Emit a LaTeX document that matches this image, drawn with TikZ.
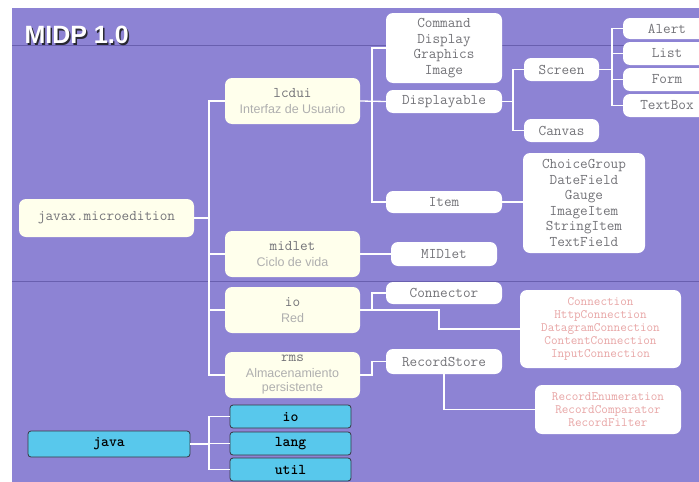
\documentclass[tikz,border=0pt]{standalone}
\usepackage{fontspec}
\setmainfont{Liberation Sans}
\definecolor{bgpurple}{RGB}{141,131,212}
\definecolor{divline}{RGB}{105,95,175}
\definecolor{cream}{RGB}{255,255,236}
\definecolor{boxgray}{RGB}{115,115,120}
\definecolor{subgray}{RGB}{175,175,175}
\definecolor{pinktext}{RGB}{232,165,165}
\definecolor{jcyan}{RGB}{88,200,236}
\definecolor{jborder}{RGB}{55,55,65}
\definecolor{titleshadow}{RGB}{40,40,50}
\tikzset{
  conn/.style={draw=white, line width=1.3pt},
  wbox/.style={fill=white, rounded corners=7pt, inner sep=0pt, align=center, text=boxgray,
    font=\ttfamily\fontsize{14.8}{15.5}\selectfont},
  cbox/.style={wbox, fill=cream, font=\fontsize{14.8}{15.5}\selectfont},
  pbox/.style={wbox, text=pinktext, font=\ttfamily\fontsize{12.8}{13}\selectfont},
  jbox/.style={fill=jcyan, draw=jborder, line width=0.8pt, rounded corners=3pt, inner sep=0pt,
    text=black, font=\ttfamily\bfseries\fontsize{15}{16}\selectfont},
}
\newcommand{\subt}[1]{{\color{subgray}\rmfamily\fontsize{12.5}{15}\selectfont #1}}
\begin{document}
\begin{tikzpicture}[x=1pt,y=-1pt]
\useasboundingbox (0,0) rectangle (699,482);
\fill[white] (0,0) rectangle (699,482);
\fill[bgpurple] (12,8) rectangle (699,482);
\draw[divline, line width=0.8pt] (12,45) -- (699,45);
\draw[divline, line width=0.8pt] (12,281) -- (699,281);
% title
\node[anchor=west, text=titleshadow, font=\bfseries\fontsize{25}{28}\selectfont] at (22.5,36.5) {MIDP 1.0};
\node[anchor=west, text=white, font=\bfseries\fontsize{25}{28}\selectfont] (title) at (21,35) {MIDP 1.0};
% trunk coordinates
\coordinate (t1) at (209,0);
\coordinate (t2) at (372,0);
\coordinate (t3) at (513,0);
\coordinate (t4) at (612,0);
\coordinate (t5) at (439,0);
% level 1
\node[cbox, minimum width=175, minimum height=38] (javax) at (106.5,218) {\ttfamily javax.microedition};
\node[cbox, minimum width=135, minimum height=46] (lcdui) at (292.5,101) {{\ttfamily lcdui}\\\subt{Interfaz de Usuario}};
\node[cbox, minimum width=135, minimum height=46] (midlet) at (292.5,254) {{\ttfamily midlet}\\\subt{Ciclo de vida}};
\node[cbox, minimum width=135, minimum height=46] (ior) at (292.5,310) {{\ttfamily io}\\\subt{Red}};
\node[cbox, minimum width=135, minimum height=46] (rms) at (292.5,375) {{\fontsize{14.8}{14}\selectfont\ttfamily rms}\\\subt{Almacenamiento}\\[-1pt]\subt{persistente}};
% level 2
\node[wbox, minimum width=116, minimum height=70] (cmd) at (444,48) {Command\\Display\\Graphics\\Image};
\node[wbox, minimum width=116, minimum height=23] (disp) at (444,101.5) {Displayable};
\node[wbox, minimum width=116, minimum height=22] (item) at (444,202) {Item};
\node[wbox, minimum width=106, minimum height=24] (midc) at (444,254) {MIDlet};
\node[wbox, minimum width=116, minimum height=22] (connector) at (444,293) {Connector};
\node[wbox, minimum width=116, minimum height=25] (rstore) at (444,361.5) {RecordStore};
% level 3
\node[wbox, minimum width=75, minimum height=23] (screen) at (561.5,69.5) {Screen};
\node[wbox, minimum width=75, minimum height=23] (canvas) at (561.5,130.5) {Canvas};
\node[wbox, minimum width=122, minimum height=100] (cg) at (584,203) {ChoiceGroup\\DateField\\Gauge\\ImageItem\\StringItem\\TextField};
\node[pbox, minimum width=161, minimum height=78] (connbox) at (600.5,329) {Connection\\HttpConnection\\DatagramConnection\\ContentConnection\\InputConnection};
\node[pbox, minimum width=146, minimum height=49] (rbox) at (608,409.5) {RecordEnumeration\\RecordComparator\\RecordFilter};
% level 4
\node[wbox, minimum width=88, minimum height=21] (alert) at (667,28.5) {Alert};
\node[wbox, minimum width=88, minimum height=23] (list) at (667,53.5) {List};
\node[wbox, minimum width=88, minimum height=23] (form) at (667,79.5) {Form};
\node[wbox, minimum width=88, minimum height=23] (textbox) at (667,105.5) {TextBox};
% java
\node[jbox, minimum width=162, minimum height=26] (java) at (109,444) {java};
\node[jbox, minimum width=121, minimum height=23] (jio) at (290.5,416.5) {io};
\node[jbox, minimum width=121, minimum height=23] (jlang) at (290.5,443.5) {lang};
\node[jbox, minimum width=121, minimum height=23] (jutil) at (290.5,469.5) {util};
% connectors
\draw[conn] (javax.east) -- (javax.east -| t1);
\draw[conn] (lcdui.west) -- (lcdui.west -| t1) -- (rms.west -| t1) -- (rms.west);
\draw[conn] (midlet.west) -- (midlet.west -| t1);
\draw[conn] (ior.west) -- (ior.west -| t1);
\draw[conn] (lcdui.east) -- (disp.west);
\draw[conn] (cmd.west) -- (cmd.west -| t2) -- (item.west -| t2) -- (item.west);
\draw[conn] (disp.east) -- (disp.east -| t3);
\draw[conn] (screen.west) -- (screen.west -| t3) -- (canvas.west -| t3) -- (canvas.west);
\draw[conn] (screen.east) -- (screen.east -| t4);
\draw[conn] (alert.west) -- (alert.west -| t4) -- (textbox.west -| t4) -- (textbox.west);
\draw[conn] (list.west) -- (list.west -| t4);
\draw[conn] (form.west) -- (form.west -| t4);
\draw[conn] (item.east) -- (cg.west |- item.east);
\draw[conn] (midlet.east) -- (midc.west);
\draw[conn] (ior.east) -- (ior.east -| t5) |- (connbox.west);
\draw[conn] (connector.west) -| (ior.east -| t2);
\draw[conn] (rstore.west) -| (rms.east -| t2) -- (rms.east);
\draw[conn] (rstore.south) |- (rbox.west);
\draw[conn] (java.east) -- (java.east -| t1);
\draw[conn] (jio.west) -- (jio.west -| t1) -- (jutil.west -| t1) -- (jutil.west);
\draw[conn] (jlang.west) -- (jlang.west -| t1);
\end{tikzpicture}
\end{document}
